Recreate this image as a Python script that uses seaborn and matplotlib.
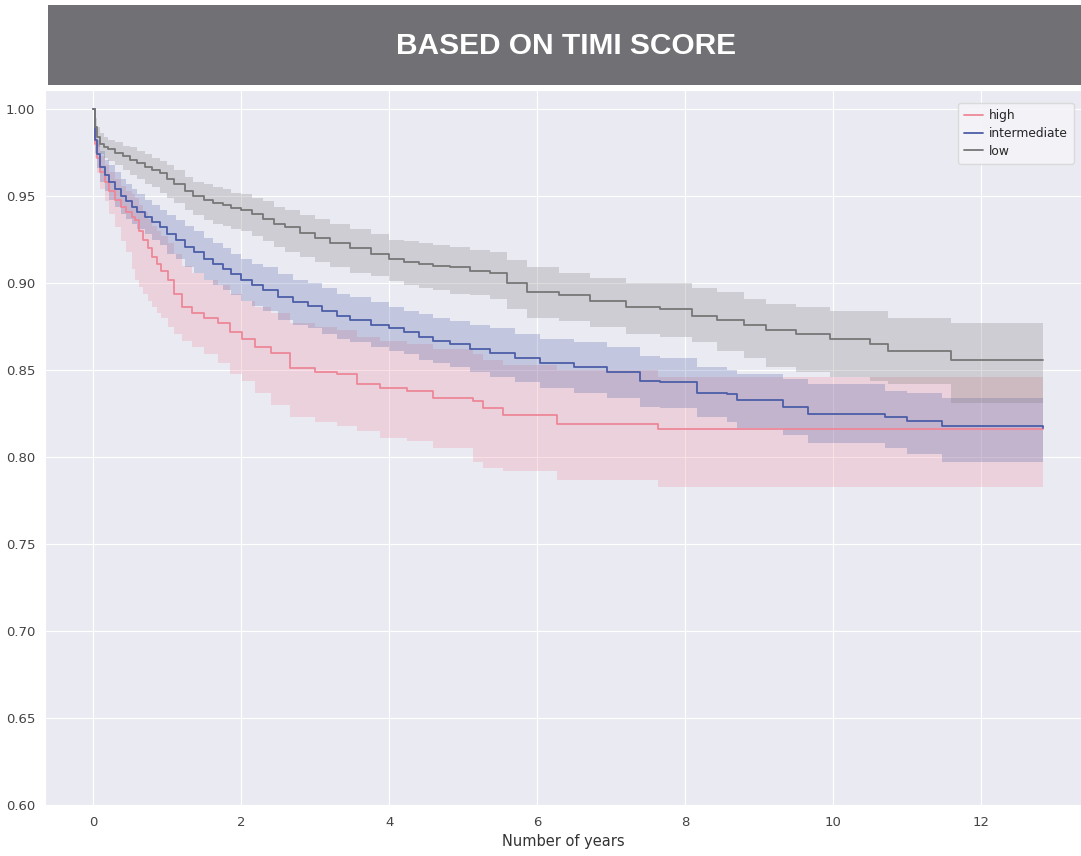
import matplotlib
matplotlib.use("Agg")
import matplotlib.pyplot as plt
from matplotlib.patches import Rectangle
import seaborn as sns

# Kaplan-Meier estimates (years, survival, 95% band)
t_low = [0, 0.02, 0.05, 0.1, 0.15, 0.2, 0.3, 0.4, 0.5, 0.6, 0.7, 0.8, 0.9, 1.0, 1.1, 1.24, 1.35,
         1.5, 1.62, 1.75, 1.87, 2.0, 2.15, 2.3, 2.45, 2.6, 2.8, 3.0, 3.2, 3.47, 3.75, 4.0, 4.2,
         4.4, 4.6, 4.82, 5.1, 5.36, 5.6, 5.86, 6.3, 6.72, 7.2, 7.66, 8.1, 8.43, 8.8, 9.1, 9.5,
         9.96, 10.5, 10.74, 11.6, 12.84]
s_low = [1.0, 0.990, 0.984, 0.980, 0.978, 0.977, 0.975, 0.973, 0.971, 0.969, 0.967, 0.965, 0.963,
         0.960, 0.957, 0.953, 0.950, 0.948, 0.946, 0.945, 0.943, 0.942, 0.940, 0.937, 0.934, 0.932,
         0.929, 0.926, 0.923, 0.920, 0.917, 0.914, 0.912, 0.911, 0.910, 0.909, 0.907, 0.906, 0.900,
         0.895, 0.893, 0.890, 0.886, 0.885, 0.881, 0.879, 0.876, 0.873, 0.871, 0.868, 0.865, 0.861,
         0.856, 0.856]
up_low = [1.0, 0.995, 0.990, 0.986, 0.984, 0.982, 0.981, 0.979, 0.978, 0.976, 0.974, 0.972, 0.970,
          0.968, 0.965, 0.961, 0.958, 0.957, 0.955, 0.954, 0.952, 0.951, 0.949, 0.947, 0.944, 0.942,
          0.939, 0.937, 0.934, 0.931, 0.928, 0.925, 0.924, 0.923, 0.922, 0.921, 0.919, 0.918, 0.913,
          0.909, 0.906, 0.903, 0.900, 0.900, 0.897, 0.895, 0.891, 0.888, 0.886, 0.884, 0.884, 0.880,
          0.877, 0.877]
lo_low = [1.0, 0.985, 0.978, 0.974, 0.972, 0.970, 0.968, 0.965, 0.962, 0.960, 0.957, 0.955, 0.952,
          0.949, 0.946, 0.942, 0.939, 0.936, 0.934, 0.933, 0.931, 0.930, 0.927, 0.924, 0.921, 0.918,
          0.915, 0.912, 0.909, 0.906, 0.904, 0.901, 0.899, 0.897, 0.896, 0.894, 0.893, 0.891, 0.885,
          0.880, 0.878, 0.875, 0.871, 0.869, 0.866, 0.861, 0.857, 0.852, 0.849, 0.846, 0.844, 0.842,
          0.831, 0.831]

t_mid = [0, 0.02, 0.05, 0.1, 0.16, 0.22, 0.3, 0.38, 0.45, 0.52, 0.6, 0.7, 0.8, 0.9, 1.0, 1.12,
         1.24, 1.37, 1.5, 1.62, 1.75, 1.87, 2.0, 2.15, 2.3, 2.5, 2.7, 2.9, 3.1, 3.3, 3.47, 3.75,
         4.0, 4.2, 4.4, 4.6, 4.82, 5.1, 5.36, 5.7, 6.04, 6.5, 6.95, 7.39, 7.66, 8.16, 8.57, 8.7,
         9.32, 9.66, 10.7, 11.0, 11.47, 12.84]
s_mid = [1.0, 0.982, 0.974, 0.967, 0.962, 0.958, 0.954, 0.950, 0.947, 0.944, 0.941, 0.938, 0.935,
         0.932, 0.928, 0.925, 0.921, 0.918, 0.914, 0.911, 0.908, 0.905, 0.902, 0.899, 0.896, 0.892,
         0.889, 0.887, 0.884, 0.881, 0.879, 0.876, 0.874, 0.872, 0.869, 0.867, 0.865, 0.862, 0.860,
         0.857, 0.854, 0.852, 0.849, 0.844, 0.843, 0.837, 0.836, 0.833, 0.829, 0.825, 0.823, 0.821,
         0.818, 0.817]
up_mid = [1.0, 0.989, 0.982, 0.976, 0.971, 0.968, 0.964, 0.960, 0.957, 0.954, 0.951, 0.948, 0.945,
          0.942, 0.939, 0.936, 0.933, 0.930, 0.926, 0.923, 0.920, 0.917, 0.914, 0.911, 0.909, 0.905,
          0.902, 0.900, 0.897, 0.894, 0.892, 0.889, 0.886, 0.884, 0.882, 0.880, 0.878, 0.876, 0.874,
          0.871, 0.868, 0.866, 0.863, 0.858, 0.857, 0.852, 0.850, 0.848, 0.845, 0.842, 0.838, 0.837,
          0.834, 0.834]
lo_mid = [1.0, 0.975, 0.966, 0.958, 0.953, 0.948, 0.944, 0.940, 0.937, 0.934, 0.931, 0.928, 0.925,
          0.922, 0.917, 0.914, 0.909, 0.906, 0.902, 0.899, 0.896, 0.893, 0.890, 0.887, 0.884, 0.879,
          0.876, 0.874, 0.871, 0.868, 0.866, 0.863, 0.861, 0.859, 0.856, 0.854, 0.852, 0.849, 0.846,
          0.843, 0.840, 0.837, 0.834, 0.829, 0.828, 0.823, 0.820, 0.817, 0.813, 0.808, 0.805, 0.802,
          0.797, 0.797]

t_high = [0, 0.02, 0.05, 0.1, 0.16, 0.22, 0.3, 0.38, 0.45, 0.52, 0.57, 0.62, 0.68, 0.74, 0.8,
          0.86, 0.92, 1.01, 1.1, 1.2, 1.34, 1.5, 1.69, 1.85, 2.01, 2.19, 2.4, 2.66, 3.0, 3.3, 3.57,
          3.88, 4.24, 4.6, 5.14, 5.27, 5.54, 6.27, 7.64, 12.84]
s_high = [1.0, 0.980, 0.972, 0.964, 0.958, 0.953, 0.948, 0.944, 0.941, 0.938, 0.936, 0.930, 0.925,
          0.920, 0.915, 0.911, 0.907, 0.902, 0.894, 0.886, 0.883, 0.880, 0.877, 0.872, 0.868, 0.863,
          0.860, 0.851, 0.849, 0.848, 0.842, 0.840, 0.838, 0.834, 0.832, 0.828, 0.824, 0.819, 0.816,
          0.816]
up_high = [1.0, 0.987, 0.980, 0.973, 0.968, 0.964, 0.960, 0.956, 0.953, 0.951, 0.949, 0.945, 0.941,
           0.937, 0.933, 0.930, 0.927, 0.923, 0.917, 0.910, 0.906, 0.902, 0.899, 0.894, 0.890, 0.886,
           0.883, 0.877, 0.875, 0.873, 0.869, 0.867, 0.865, 0.862, 0.859, 0.856, 0.853, 0.850, 0.846,
           0.843]
lo_high = [1.0, 0.972, 0.963, 0.954, 0.947, 0.940, 0.932, 0.924, 0.918, 0.908, 0.902, 0.898, 0.894,
           0.890, 0.886, 0.883, 0.880, 0.875, 0.871, 0.867, 0.863, 0.859, 0.854, 0.848, 0.844, 0.837,
           0.830, 0.823, 0.820, 0.818, 0.815, 0.811, 0.809, 0.805, 0.797, 0.794, 0.792, 0.787, 0.783,
           0.783]

x_ticks = [0, 2, 4, 6, 8, 10, 12]
y_ticks = [0.60, 0.65, 0.70, 0.75, 0.80, 0.85, 0.90, 0.95, 1.00]

sns.set_style("darkgrid")
plt.rcParams['font.family'] = ['DejaVu Sans']

fig = plt.figure(figsize=(10.81, 8.56), dpi=100)
ax = fig.add_axes([0.0416, 0.0584, 0.9584, 0.8365])

series = [
    ("high", t_high, s_high, lo_high, up_high, "#ee8798"),
    ("intermediate", t_mid, s_mid, lo_mid, up_mid, "#4c5ea8"),
    ("low", t_low, s_low, lo_low, up_low, "#777777"),
]
for name, t, s, lo, up, col in series:
    ax.fill_between(t, lo, up, step="post", color=col, alpha=0.25, linewidth=0)
    sns.lineplot(x=t, y=s, drawstyle="steps-post", color=col, linewidth=1.3,
                 label=name, ax=ax, sort=False)

ax.set_xlim(-0.65, 13.35)
ax.set_ylim(0.5995, 1.011)
ax.set_xticks(x_ticks)
ax.set_yticks(y_ticks)
ax.set_yticklabels([f"{v:.2f}" for v in y_ticks])
ax.tick_params(labelsize=9.5, colors="#444444")
ax.set_xlabel("Number of years", fontsize=10.5, color="#333333")
ax.set_ylabel("")

ax.legend(loc="upper right", bbox_to_anchor=(0.999, 0.887), bbox_transform=fig.transFigure,
          fontsize=8.8, frameon=True, facecolor="#f4f4f8", edgecolor="#d8d8d8",
          framealpha=0.9, handlelength=1.5, handletextpad=0.5, borderpad=0.5,
          labelspacing=0.4)

# grey title banner
fig.patches.append(Rectangle((0.0444, 1 - 85 / 856), 1.0, 80 / 856, transform=fig.transFigure,
                             facecolor="#717074", edgecolor="none", zorder=5))
fig.text(0.524, 1 - 46 / 856, "BASED ON TIMI SCORE", color="white", fontsize=21.5,
         fontweight="bold", family=["Liberation Sans", "DejaVu Sans"], ha="center", va="center",
         zorder=6)

plt.savefig("out.png", dpi=100)
